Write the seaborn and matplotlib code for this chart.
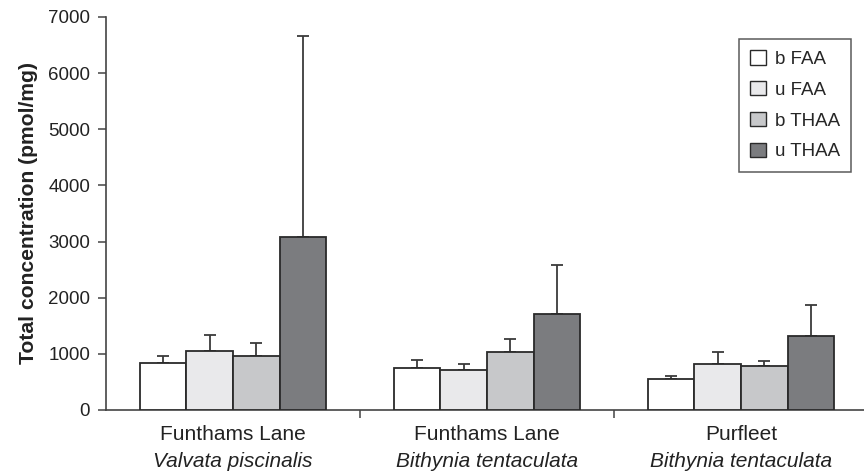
import matplotlib
matplotlib.use("Agg")
import matplotlib.pyplot as plt
import seaborn as sns
import pandas as pd
import numpy as np

sites = ["Funthams Lane\nValvata piscinalis", "Funthams Lane\nBithynia tentaculata", "Purfleet\nBithynia tentaculata"]
site_line1 = ["Funthams Lane", "Funthams Lane", "Purfleet"]
site_line2 = ["Valvata piscinalis", "Bithynia tentaculata", "Bithynia tentaculata"]
series = ["b FAA", "u FAA", "b THAA", "u THAA"]
b_faa = [843, 742, 552]
u_faa = [1051, 712, 814]
b_thaa = [956, 1027, 789]
u_thaa = [3081, 1716, 1323]
b_faa_err = [119, 148, 59]
u_faa_err = [290, 107, 213]
b_thaa_err = [232, 243, 89]
u_thaa_err = [3586, 866, 542]
colors = ["#ffffff", "#e9e9eb", "#c7c8ca", "#7b7c7f"]
yticks = [0, 1000, 2000, 3000, 4000, 5000, 6000, 7000]

vals = [b_faa, u_faa, b_thaa, u_thaa]
errs = [b_faa_err, u_faa_err, b_thaa_err, u_thaa_err]
rows = []
for s, v in zip(series, vals):
    for site, val in zip(sites, v):
        rows.append({"site": site, "series": s, "value": val})
df = pd.DataFrame(rows)

sns.set_style("white")
plt.rcParams["font.family"] = ["Liberation Sans", "DejaVu Sans"]

fig = plt.figure(figsize=(8.64, 4.72), dpi=100)
ax = fig.add_axes([0.1227, 0.1314, 0.8773, 0.8326])

sns.barplot(data=df, x="site", y="value", hue="series", order=sites, hue_order=series,
            palette=colors, errorbar=None, width=0.735, gap=0, edgecolor="#2a2a2a",
            linewidth=1.3, saturation=1, ax=ax, zorder=3)

for cont, e in zip(ax.containers, errs):
    xs = [p.get_x() + p.get_width() / 2 for p in cont.patches]
    hs = [p.get_height() for p in cont.patches]
    ax.errorbar(xs, hs, yerr=[np.zeros(len(e)), e], fmt="none", ecolor="#3a3a3a",
                elinewidth=1.3, capsize=4, capthick=1.3, zorder=2)

ax.set_ylim(0, 7000)
ax.set_xlim(-0.5, 2.485)
ax.set_yticks(yticks)
ax.set_yticklabels([str(t) for t in yticks], fontsize=13.5, color="#222222")
ax.set_xticks([0, 1, 2])
ax.set_xticklabels([""] * 3)
ax.tick_params(axis="x", which="major", length=0)
ax.set_xticks([0.5, 1.5], minor=True)
ax.tick_params(axis="x", which="minor", length=6, width=1.1, color="#444444", direction="out", bottom=True)
ax.tick_params(axis="y", which="major", length=6, width=1.1, color="#444444", direction="out", left=True, pad=5.5)

for i in range(3):
    ax.text(i, -30 / 393, site_line1[i], transform=ax.get_xaxis_transform(), ha="center", va="baseline",
            fontsize=15, color="#222222")
    ax.text(i, -57 / 393, site_line2[i], transform=ax.get_xaxis_transform(), ha="center", va="baseline",
            fontsize=15, style="italic", color="#222222")

ax.set_xlabel("")
ax.set_ylabel("Total concentration (pmol/mg)", fontsize=15.2, fontweight="bold", color="#222222", labelpad=7)

for side in ["top", "right"]:
    ax.spines[side].set_visible(False)
for side in ["left", "bottom"]:
    ax.spines[side].set_color("#444444")
    ax.spines[side].set_linewidth(1.2)

leg = ax.legend(loc="upper right", bbox_to_anchor=(0.983, 0.944), borderaxespad=0, frameon=True,
                fancybox=False, fontsize=13.5, handlelength=0.85, handleheight=0.8, handletextpad=0.45,
                labelspacing=0.7, borderpad=0.6, edgecolor="#333333")
leg.get_frame().set_linewidth(1.1)
for h in leg.legend_handles:
    h.set_edgecolor("#2a2a2a")
    h.set_linewidth(1.0)

fig.savefig("out.png", dpi=100)
